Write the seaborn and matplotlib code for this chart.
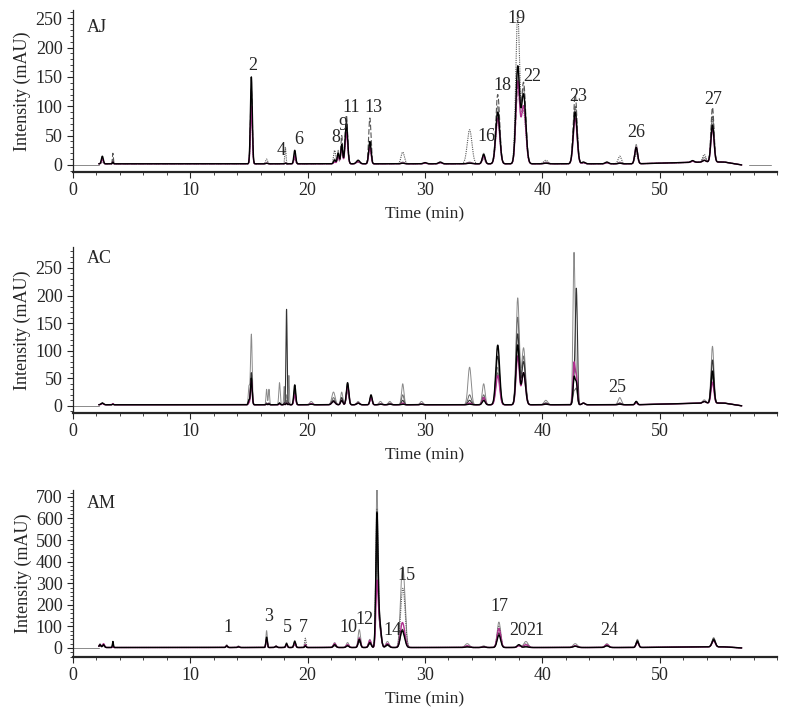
import numpy as np
import pandas as pd
import matplotlib
matplotlib.use("Agg")
import matplotlib.pyplot as plt
from matplotlib.ticker import MultipleLocator
import seaborn as sns

# ---------------- data (peak tables) ----------------
# Panel AJ
aj_times = [2.5, 3.4, 15.2, 16.5, 18.1, 18.9, 22.3, 22.6, 22.9, 23.3, 24.3, 25.3, 28.1, 30.0, 31.3,
            33.8, 35.0, 36.2, 37.9, 38.4, 40.3, 42.8, 43.5, 45.5, 46.6, 48.0, 52.8, 53.8, 54.5]
aj_widths = [0.08, 0.04, 0.08, 0.08, 0.05, 0.08, 0.09, 0.08, 0.08, 0.11, 0.14, 0.1, 0.14, 0.14, 0.14,
             0.2, 0.12, 0.17, 0.16, 0.19, 0.18, 0.16, 0.14, 0.14, 0.14, 0.12, 0.14, 0.14, 0.13]
aj_gray = [12, 10, 120, 3, 3, 20, 8, 25, 35, 75, 8, 40, 5, 3, 4, 5, 20, 100, 160, 130, 5, 100, 4, 4, 5, 35, 4, 10, 80]
aj_dashed = [8, 20, 130, 3, 3, 15, 10, 15, 50, 85, 5, 80, 3, 3, 4, 3, 15, 120, 130, 140, 3, 120, 4, 4, 3, 25, 4, 5, 95]
aj_dotted = [5, 5, 100, 10, 30, 10, 25, 10, 30, 60, 5, 30, 22, 3, 3, 60, 10, 80, 255, 90, 8, 100, 3, 3, 15, 20, 4, 15, 80]
aj_magenta = [10, 5, 100, 3, 3, 15, 5, 15, 30, 55, 6, 30, 3, 3, 4, 3, 15, 80, 140, 100, 3, 80, 4, 4, 3, 30, 4, 5, 60]
aj_black = [15, 5, 150, 3, 3, 25, 8, 20, 35, 70, 8, 40, 3, 4, 5, 3, 18, 90, 165, 120, 3, 90, 5, 5, 3, 30, 5, 5, 65]
aj_labels = ["2", "4", "6", "8", "9", "11", "13", "16", "18", "19", "22", "23", "26", "27"]
aj_label_x = [15.3, 17.7, 19.2, 22.4, 23.0, 23.7, 25.6, 35.2, 36.6, 37.8, 39.1, 43.1, 48.0, 54.6]
aj_label_y = [170, 24, 44, 46, 67, 98, 98, 48, 136, 250, 150, 116, 56, 112]

# Panel AC
ac_times = [2.5, 3.4, 15.0, 15.2, 16.5, 16.7, 17.6, 18.0, 18.2, 18.4, 18.9, 20.3, 22.2, 22.9, 23.4, 24.3,
            25.4, 26.2, 27.0, 28.1, 29.7, 33.8, 35.0, 36.2, 37.9, 38.4, 40.3, 42.7, 42.9, 43.5, 46.6,
            48.0, 53.8, 54.5]
ac_widths = [0.1, 0.05, 0.06, 0.07, 0.05, 0.05, 0.06, 0.04, 0.05, 0.04, 0.08, 0.12, 0.14, 0.09, 0.1, 0.12,
             0.09, 0.12, 0.12, 0.1, 0.12, 0.14, 0.12, 0.16, 0.14, 0.16, 0.15, 0.09, 0.09, 0.12, 0.14,
             0.09, 0.14, 0.12]
ac_gray = [5, 3, 35, 130, 30, 30, 42, 35, 20, 55, 20, 8, 25, 25, 25, 8, 15, 8, 8, 40, 8, 70, 40, 70, 195,
           105, 10, 275, 40, 5, 15, 5, 8, 105]
ac_gray2 = [5, 3, 8, 40, 5, 5, 5, 5, 10, 5, 25, 3, 15, 10, 30, 5, 15, 3, 5, 20, 3, 20, 20, 60, 160, 90,
            5, 25, 30, 5, 5, 8, 5, 50]
ac_dark = [5, 3, 10, 60, 5, 5, 5, 5, 175, 5, 30, 3, 10, 15, 40, 5, 18, 3, 3, 10, 3, 10, 15, 90, 130, 80,
           5, 40, 210, 5, 5, 8, 5, 80]
ac_magenta = [4, 2, 5, 45, 3, 3, 3, 3, 5, 3, 20, 2, 8, 10, 35, 5, 15, 3, 3, 5, 3, 5, 15, 55, 90, 60, 3,
              75, 50, 5, 3, 6, 5, 40]
ac_black = [5, 3, 10, 50, 3, 3, 5, 3, 5, 3, 38, 3, 8, 10, 42, 5, 20, 3, 3, 3, 3, 3, 10, 110, 110, 60, 3,
            50, 40, 5, 3, 8, 5, 60]
ac_labels = ["25"]
ac_label_x = [46.4]
ac_label_y = [34]

# Panel AM
am_times = [2.3, 2.6, 3.4, 13.1, 14.1, 16.5, 17.3, 18.2, 18.9, 19.8, 22.3, 23.4, 24.4, 25.3, 25.9, 26.1,
            26.8, 28.0, 28.2, 33.6, 35.0, 36.3, 38.0, 38.6, 42.8, 45.5, 48.1, 54.6]
am_widths = [0.08, 0.08, 0.04, 0.07, 0.07, 0.06, 0.08, 0.07, 0.08, 0.06, 0.11, 0.11, 0.1, 0.11, 0.09, 0.14,
             0.14, 0.14, 0.15, 0.18, 0.14, 0.15, 0.14, 0.18, 0.18, 0.16, 0.11, 0.14]
am_gray = [20, 18, 10, 15, 10, 80, 10, 25, 35, 20, 25, 25, 85, 40, 700, 150, 30, 230, 250, 20, 10, 120,
           15, 30, 20, 20, 40, 45]
am_dotted = [10, 10, 5, 8, 5, 30, 5, 10, 15, 45, 15, 15, 50, 30, 600, 120, 20, 150, 200, 10, 5, 100, 10,
             20, 10, 15, 25, 30]
am_dark = [12, 12, 20, 8, 5, 40, 5, 15, 25, 8, 10, 10, 30, 20, 450, 100, 12, 60, 50, 5, 5, 70, 12, 8, 8,
           10, 35, 40]
am_magenta = [15, 20, 5, 10, 5, 40, 8, 15, 20, 15, 20, 15, 45, 35, 270, 120, 20, 80, 70, 10, 5, 90, 10,
              15, 10, 15, 25, 30]
am_black = [15, 15, 30, 10, 5, 50, 8, 20, 30, 10, 15, 10, 40, 25, 580, 130, 15, 60, 40, 5, 5, 60, 15, 5,
            8, 10, 30, 35]
am_labels = ["1", "3", "5", "7", "10", "12", "14", "15", "17", "20", "21", "24"]
am_label_x = [13.2, 16.7, 18.3, 19.6, 23.5, 24.8, 27.2, 28.4, 36.3, 37.9, 39.4, 45.7]
am_label_y = [93, 144, 93, 93, 93, 134, 83, 334, 190, 83, 83, 83]

panel_names = ["AJ", "AC", "AM"]
panel_name_y = [0.89, 0.93, 0.92]
y_limits = [(-12, 264), (-13, 288), (-42, 732)]
y_major = [50, 50, 100]
y_minor = [10, 10, 20]

# ---------------- styling ----------------
sns.set_style("ticks")
plt.rcParams["font.family"] = ["Liberation Serif", "DejaVu Serif"]
plt.rcParams["font.size"] = 13

styles = {
    "gray": dict(color="#8a8a8a", lw=0.7, ls="-"),
    "gray2": dict(color="#6a6a6a", lw=0.7, ls="-"),
    "dashed": dict(color="#555555", lw=0.8, ls=(0, (5, 2))),
    "dotted": dict(color="#555555", lw=0.8, ls=(0, (1, 1))),
    "dark": dict(color="#333333", lw=0.8, ls="-"),
    "magenta": dict(color="#b0308f", lw=1.0, ls="-"),
    "black": dict(color="#000000", lw=1.0, ls="-"),
}

t = np.arange(2.2, 57.0, 0.01)


def chromatogram(times, widths, heights):
    base = np.full_like(t, 2.0)
    base += np.where(t > 48, 3.0 * np.clip((t - 48) / 6.0, 0, 1), 0)
    base *= np.clip((57.0 - t) / 1.5, 0, 1)
    y = base.copy()
    for c, w, h in zip(times, widths, heights):
        y += (h - 2.0 if h > 2 else h) * np.exp(-0.5 * ((t - c) / w) ** 2)
    return y


panels = [
    (aj_times, aj_widths, [("gray", aj_gray), ("dashed", aj_dashed), ("dotted", aj_dotted),
                           ("magenta", aj_magenta), ("black", aj_black)],
     aj_labels, aj_label_x, aj_label_y),
    (ac_times, ac_widths, [("gray", ac_gray), ("gray2", ac_gray2), ("dark", ac_dark),
                           ("magenta", ac_magenta), ("black", ac_black)],
     ac_labels, ac_label_x, ac_label_y),
    (am_times, am_widths, [("gray", am_gray), ("dotted", am_dotted), ("dark", am_dark),
                           ("magenta", am_magenta), ("black", am_black)],
     am_labels, am_label_x, am_label_y),
]

fig = plt.figure(figsize=(7.9, 7.17), dpi=100)
rects = [
    [73 / 790, (717 - 172) / 717, 704 / 790, 162 / 717],
    [73 / 790, (717 - 413) / 717, 704 / 790, 166 / 717],
    [73 / 790, (717 - 657) / 717, 704 / 790, 167 / 717],
]

for i, (times, widths, traces, labels, lx, ly) in enumerate(panels):
    ax = fig.add_axes(rects[i])
    # flat start of the baseline
    ax.plot([0, 2.2], [0, 0], color="#8a8a8a", lw=0.7)
    if i == 0:
        ax.plot([57.6, 59.5], [0, 0], color="#8a8a8a", lw=0.7)
    for name, heights in traces:
        df = pd.DataFrame({"Time (min)": t, "Intensity (mAU)": chromatogram(times, widths, heights)})
        st = styles[name]
        sns.lineplot(data=df, x="Time (min)", y="Intensity (mAU)", ax=ax, estimator=None, sort=False,
                     color=st["color"], linewidth=st["lw"], linestyle=st["ls"])
    for lab, x, y in zip(labels, lx, ly):
        ax.text(x, y, lab, ha="center", va="center", fontsize=13)
    ax.text(0.02, panel_name_y[i], panel_names[i], transform=ax.transAxes, fontsize=13,
            va="center", ha="left")

    ax.set_xlim(0, 60)
    ax.set_ylim(*y_limits[i])
    ax.xaxis.set_major_locator(MultipleLocator(10))
    ax.xaxis.set_minor_locator(MultipleLocator(2))
    ax.yaxis.set_major_locator(MultipleLocator(y_major[i]))
    ax.yaxis.set_minor_locator(MultipleLocator(y_minor[i]))
    ax.set_xticks(np.arange(0, 60, 10))
    ax.set_yticks(np.arange(0, y_limits[i][1], y_major[i]))
    ax.tick_params(axis="both", which="major", labelsize=13, length=4, width=0.8, direction="out")
    ax.tick_params(axis="both", which="minor", length=2, width=0.6, direction="out")
    for s in ["top", "right"]:
        ax.spines[s].set_visible(False)
    ax.spines["bottom"].set_linewidth(1.6)
    ax.spines["left"].set_linewidth(0.9)
    ax.set_xlabel("Time (min)", fontsize=12.5, labelpad=5)
    ax.set_ylabel("Intensity (mAU)", fontsize=13, labelpad=3)

fig.savefig("out.png", dpi=100)
